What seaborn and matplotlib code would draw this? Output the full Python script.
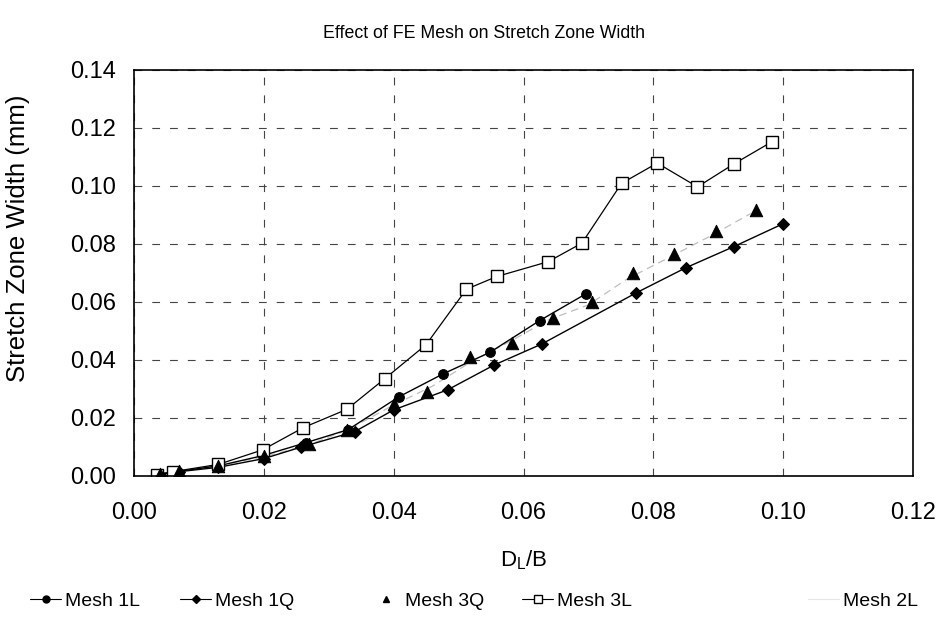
import matplotlib
matplotlib.use("Agg")
import matplotlib.pyplot as plt
import seaborn as sns
import pandas as pd
from matplotlib.lines import Line2D

# Normalised load-line displacement D_L/B and stretch zone width (mm) per mesh
mesh1l_x = [0.0035, 0.0065, 0.0130, 0.0198, 0.0265, 0.0330, 0.0408, 0.0476, 0.0548, 0.0625, 0.0696]
mesh1l_y = [0.0005, 0.0015, 0.0035, 0.0070, 0.0115, 0.0160, 0.0273, 0.0352, 0.0426, 0.0536, 0.0628]

mesh1q_x = [0.0040, 0.0070, 0.0130, 0.0200, 0.0258, 0.0340, 0.0400, 0.0483, 0.0555, 0.0628, 0.0774, 0.0850, 0.0924, 0.0999]
mesh1q_y = [0.0005, 0.0015, 0.0030, 0.0060, 0.0100, 0.0153, 0.0228, 0.0297, 0.0383, 0.0455, 0.0632, 0.0718, 0.0791, 0.0869]

mesh3q_x = [0.0040, 0.0070, 0.0130, 0.0200, 0.0270, 0.0328, 0.0400, 0.0451, 0.0517, 0.0582, 0.0646, 0.0705, 0.0768, 0.0832, 0.0896, 0.0958]
mesh3q_y = [0.0008, 0.0018, 0.0036, 0.0068, 0.0110, 0.0158, 0.0250, 0.0291, 0.0409, 0.0460, 0.0544, 0.0601, 0.0699, 0.0766, 0.0846, 0.0917]

mesh3l_x = [0.0035, 0.0060, 0.0130, 0.0198, 0.0261, 0.0328, 0.0386, 0.0450, 0.0512, 0.0559, 0.0638, 0.0690, 0.0751, 0.0806, 0.0868, 0.0924, 0.0983]
mesh3l_y = [0.0005, 0.0015, 0.0040, 0.0090, 0.0167, 0.0230, 0.0335, 0.0453, 0.0644, 0.0688, 0.0739, 0.0803, 0.1009, 0.1079, 0.0997, 0.1076, 0.1153]

mesh2l_x = [0.0035, 0.0130, 0.0200, 0.0270, 0.0330, 0.0400, 0.0460, 0.0520, 0.0580, 0.0640, 0.0700, 0.0760, 0.0830, 0.0890, 0.0950]
mesh2l_y = [0.0005, 0.0036, 0.0066, 0.0108, 0.0160, 0.0245, 0.0310, 0.0395, 0.0465, 0.0540, 0.0590, 0.0680, 0.0760, 0.0830, 0.0905]

x_ticks = [0.00, 0.02, 0.04, 0.06, 0.08, 0.10, 0.12]
y_ticks = [0.00, 0.02, 0.04, 0.06, 0.08, 0.10, 0.12, 0.14]

sns.set_theme(style="white")
plt.rcParams["font.family"] = ["Liberation Sans", "DejaVu Sans"]
plt.rcParams["text.color"] = "black"
plt.rcParams["axes.labelcolor"] = "black"

fig = plt.figure(figsize=(9.52, 6.2), dpi=100)
ax = fig.add_axes([134 / 952, 1 - 476 / 620, (913 - 134) / 952, (476 - 70) / 620])

df1l = pd.DataFrame({"x": mesh1l_x, "y": mesh1l_y})
df1q = pd.DataFrame({"x": mesh1q_x, "y": mesh1q_y})
df3q = pd.DataFrame({"x": mesh3q_x, "y": mesh3q_y})
df3l = pd.DataFrame({"x": mesh3l_x, "y": mesh3l_y})
df2l = pd.DataFrame({"x": mesh2l_x, "y": mesh2l_y})

# Mesh 2L: faint line without markers
sns.lineplot(data=df2l, x="x", y="y", ax=ax, color="#bdbdbd", lw=0.9,
             linestyle=(0, (6, 4)), sort=False, estimator=None, legend=False)
sns.lineplot(data=df1q, x="x", y="y", ax=ax, color="black", lw=1.0,
             marker="D", markersize=6, markeredgecolor="black", sort=False,
             estimator=None, legend=False)
sns.lineplot(data=df1l, x="x", y="y", ax=ax, color="black", lw=1.0,
             marker="o", markersize=7, markeredgecolor="black", sort=False,
             estimator=None, legend=False)
sns.scatterplot(data=df3q, x="x", y="y", ax=ax, color="black", marker="^",
                s=80, edgecolor="black", legend=False, zorder=4)
sns.lineplot(data=df3l, x="x", y="y", ax=ax, color="black", lw=0.9,
             marker="s", markersize=8, markerfacecolor="white",
             markeredgecolor="black", markeredgewidth=1.0, sort=False,
             estimator=None, legend=False)

ax.set_xlim(0, 0.12)
ax.set_ylim(0, 0.14)
ax.set_xticks(x_ticks)
ax.set_yticks(y_ticks)
ax.set_xticklabels([f"{v:.2f}" for v in x_ticks])
ax.set_yticklabels([f"{v:.2f}" for v in y_ticks])
ax.tick_params(axis="both", length=0, labelsize=17, colors="black")
ax.tick_params(axis="x", pad=19)
ax.tick_params(axis="y", pad=13)
ax.grid(True, color="#444444", lw=0.8, linestyle=(0, (7, 9)))
for sp in ax.spines.values():
    sp.set_color("black")
    sp.set_linewidth(1.2)

ax.set_xlabel(r"D$_\mathregular{L}$/B", fontsize=16, labelpad=17)
ax.set_ylabel("Stretch Zone Width (mm)", fontsize=18.5)
ax.yaxis.label.set_va("center")
ax.yaxis.set_label_coords(-0.149, 0.586)

fig.text(484 / 952, 1 - 33 / 620, "Effect of FE Mesh on Stretch Zone Width",
         ha="center", va="center", fontsize=12.8)

handles = [
    Line2D([], [], color="black", lw=0.8, marker="o", markersize=5),
    Line2D([], [], color="black", lw=0.8, marker="D", markersize=4),
    Line2D([], [], color="none", marker="^", markersize=5,
           markerfacecolor="black", markeredgecolor="black"),
    Line2D([], [], color="black", lw=0.8, marker="s", markersize=6,
           markerfacecolor="white", markeredgecolor="black"),
    Line2D([], [], color="#e6e6e6", lw=0.8),
]
labels = ["Mesh 1L", "Mesh 1Q", "Mesh 3Q", "Mesh 3L", "Mesh 2L"]
# each legend entry placed at its own position along the bottom row
entry_left = [30, 180, 370, 522, 808]
for h, lab, xl in zip(handles, labels, entry_left):
    fig.legend([h], [lab], loc="center left", frameon=False,
               bbox_to_anchor=(xl / 952, 1 - 601 / 620),
               borderaxespad=0, borderpad=0, fontsize=14,
               handlelength=1.6, handletextpad=0.2)

fig.savefig("out.png", dpi=100)
